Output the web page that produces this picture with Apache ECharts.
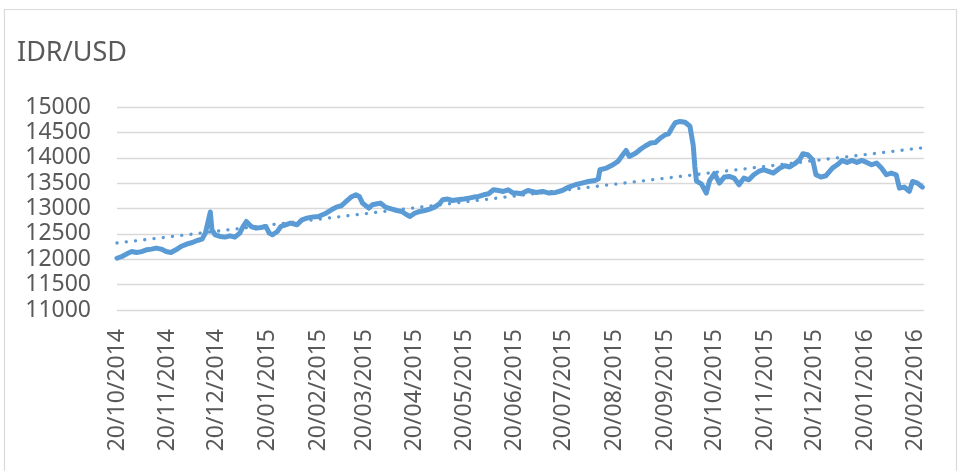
<!DOCTYPE html>
<html>
<head>
<meta charset="utf-8">
<script src="https://cdn.jsdelivr.net/npm/echarts@6/dist/echarts.min.js"></script>
<style>
html,body{margin:0;padding:0;background:#fff;}
#chart{width:967px;height:471px;}
</style>
</head>
<body>
<div id="chart"></div>
<script>
const titleText = 'IDR/USD';
const tickLabels = ['20/10/2014','20/11/2014','20/12/2014','20/01/2015','20/02/2015','20/03/2015','20/04/2015','20/05/2015','20/06/2015','20/07/2015','20/08/2015','20/09/2015','20/10/2015','20/11/2015','20/12/2015','20/01/2016','20/02/2016'];
const dates = ['2014-10-20','2014-10-23','2014-10-26','2014-10-29','2014-11-01','2014-11-04','2014-11-07','2014-11-10','2014-11-13','2014-11-16','2014-11-19','2014-11-22','2014-11-25','2014-11-28','2014-12-02','2014-12-05','2014-12-08','2014-12-11','2014-12-13','2014-12-16','2014-12-17','2014-12-19','2014-12-22','2014-12-25','2014-12-28','2014-12-31','2015-01-03','2015-01-05','2015-01-07','2015-01-10','2015-01-13','2015-01-16','2015-01-19','2015-01-21','2015-01-23','2015-01-26','2015-01-28','2015-01-31','2015-02-03','2015-02-07','2015-02-10','2015-02-13','2015-02-16','2015-02-20','2015-02-24','2015-02-28','2015-03-03','2015-03-06','2015-03-09','2015-03-12','2015-03-15','2015-03-17','2015-03-19','2015-03-21','2015-03-23','2015-03-25','2015-03-28','2015-03-30','2015-04-02','2015-04-06','2015-04-09','2015-04-12','2015-04-15','2015-04-17','2015-04-20','2015-04-23','2015-04-26','2015-04-29','2015-05-02','2015-05-05','2015-05-07','2015-05-10','2015-05-13','2015-05-16','2015-05-20','2015-05-23','2015-05-26','2015-05-29','2015-06-01','2015-06-04','2015-06-07','2015-06-10','2015-06-13','2015-06-16','2015-06-19','2015-06-21','2015-06-24','2015-06-28','2015-07-03','2015-07-07','2015-07-11','2015-07-15','2015-07-19','2015-07-23','2015-07-27','2015-07-31','2015-08-04','2015-08-08','2015-08-10','2015-08-11','2015-08-15','2015-08-19','2015-08-22','2015-08-25','2015-08-27','2015-08-29','2015-09-02','2015-09-05','2015-09-08','2015-09-11','2015-09-14','2015-09-17','2015-09-20','2015-09-22','2015-09-24','2015-09-26','2015-09-29','2015-10-02','2015-10-05','2015-10-07','2015-10-08','2015-10-09','2015-10-12','2015-10-15','2015-10-17','2015-10-20','2015-10-23','2015-10-26','2015-10-29','2015-11-01','2015-11-04','2015-11-07','2015-11-10','2015-11-13','2015-11-16','2015-11-19','2015-11-22','2015-11-25','2015-11-29','2015-12-02','2015-12-05','2015-12-08','2015-12-11','2015-12-13','2015-12-16','2015-12-19','2015-12-21','2015-12-24','2015-12-27','2015-12-31','2016-01-03','2016-01-06','2016-01-09','2016-01-12','2016-01-15','2016-01-18','2016-01-21','2016-01-24','2016-01-27','2016-01-30','2016-02-02','2016-02-05','2016-02-08','2016-02-10','2016-02-13','2016-02-16','2016-02-18','2016-02-21','2016-02-24'];
const rates = [12020,12054,12107,12152,12133,12150,12186,12200,12220,12200,12152,12133,12186,12250,12304,12330,12369,12397,12515,12930,12580,12482,12450,12436,12462,12436,12515,12645,12744,12645,12613,12626,12645,12515,12482,12547,12645,12679,12712,12679,12778,12810,12830,12843,12896,12975,13028,13054,13139,13225,13270,13237,13107,13054,13008,13073,13093,13107,13028,12989,12961,12942,12876,12843,12910,12942,12961,12989,13028,13093,13172,13186,13158,13172,13186,13205,13225,13237,13270,13290,13369,13355,13336,13369,13304,13304,13290,13355,13316,13336,13304,13316,13355,13422,13468,13501,13533,13553,13580,13764,13797,13862,13928,14059,14144,14026,14093,14172,14237,14290,14302,14389,14454,14473,14586,14690,14716,14700,14620,14250,13829,13540,13485,13304,13550,13690,13501,13619,13632,13599,13468,13599,13566,13665,13730,13764,13730,13698,13797,13842,13817,13882,13961,14079,14059,13961,13665,13619,13645,13797,13862,13947,13908,13947,13908,13947,13908,13862,13895,13797,13665,13698,13665,13402,13422,13336,13533,13501,13422];
const trendDates = ['2014-10-20','2016-02-24'];
const trendValues = [12320, 14195];
const axisStart = '2014-10-20';
const axisEnd = '2016-02-25';

const DAY = 86400000;
function isoToUTC(s){ const p = s.split('-').map(Number); return Date.UTC(p[0], p[1]-1, p[2]); }
function dmyToUTC(s){ const p = s.split('/').map(Number); return Date.UTC(p[2], p[1]-1, p[0]); }
const t0 = isoToUTC(axisStart);
function dayOf(ts){ return Math.round((ts - t0) / DAY); }

const mainData = dates.map((d,i)=>[dayOf(isoToUTC(d)), rates[i]]);
const trendData = trendDates.map((d,i)=>[dayOf(isoToUTC(d)), trendValues[i]]);
const tickDays = tickLabels.map(s => dayOf(dmyToUTC(s)));
const labelByDay = {};
tickDays.forEach((d,i)=>{ labelByDay[d] = tickLabels[i]; });

const FONT = '"Noto Sans", sans-serif';
const chart = echarts.init(document.getElementById('chart'), null, {renderer:'canvas'});
chart.setOption({
  animation: false,
  backgroundColor: '#ffffff',
  title: {
    text: titleText, left: 12, top: 35,
    textStyle: { fontFamily: FONT, fontSize: 27, fontWeight: 'normal', color: '#595959' }
  },
  graphic: [{
    type: 'rect', silent: true, z: -10,
    shape: { x: 4.5, y: 9.5, width: 952, height: 470 },
    style: { fill: 'none', stroke: '#d9d9d9', lineWidth: 1.2 }
  }],
  grid: { left: 117, right: 43, top: 107, bottom: 161 },
  xAxis: {
    type: 'value',
    min: 0, max: dayOf(isoToUTC(axisEnd)),
    axisLine: { show: false },
    axisTick: { show: false },
    splitLine: { show: false },
    axisLabel: {
      customValues: tickDays,
      rotate: 90, margin: 19,
      fontFamily: FONT, fontSize: 23, color: '#595959',
      formatter: function(v){ return labelByDay[Math.round(v)] || ''; },
      showMinLabel: true, showMaxLabel: true
    }
  },
  yAxis: {
    type: 'value', min: 11000, max: 15000, interval: 500,
    axisLine: { show: false }, axisTick: { show: false },
    splitLine: { lineStyle: { color: '#d9d9d9', width: 1.3 } },
    axisLabel: { margin: 26, fontFamily: FONT, fontSize: 23, color: '#595959',
      formatter: function(v){ return String(v); } }
  },
  series: [
    {
      type: 'line', data: mainData, showSymbol: false, symbol: 'none',
      lineStyle: { color: '#5b9bd5', width: 5, join: 'round', cap: 'round' },
      z: 3
    },
    {
      type: 'line', data: trendData, showSymbol: false, symbol: 'none',
      lineStyle: { color: '#5b9bd5', width: 3.3, type: [0.1, 9.2], cap: 'round' },
      z: 2
    }
  ]
});
</script>
</body>
</html>
